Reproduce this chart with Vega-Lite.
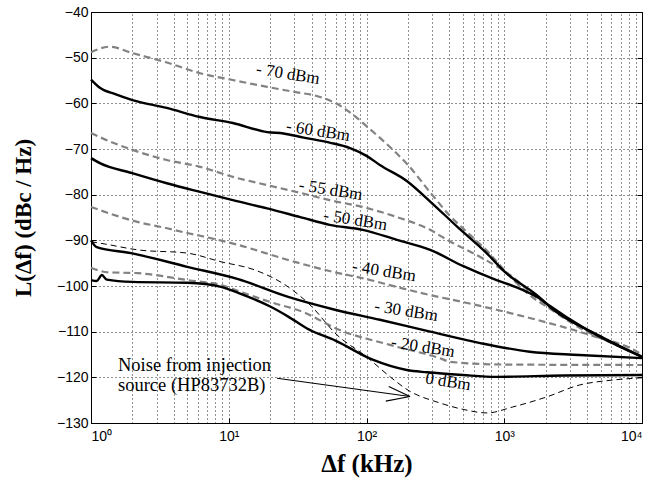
{
  "$schema": "https://vega.github.io/schema/vega-lite/v6.json",
  "autosize": "none",
  "width": 551,
  "height": 411,
  "padding": {"left": 91, "top": 12, "right": 21, "bottom": 62},
  "background": "white",
  "config": {
    "view": {"stroke": "#000", "strokeWidth": 1},
    "axis": {
      "domainColor": "#000",
      "tickColor": "#000",
      "labelColor": "#000",
      "titleColor": "#000",
      "gridColor": "#000",
      "gridDash": [1, 3],
      "gridOpacity": 0.85,
      "gridWidth": 1
    }
  },
  "datasets": {
    "curves": [
      {"series": "-70 dBm", "f": 1, "L": -48.8},
      {"series": "-70 dBm", "f": 1.37, "L": -47.6},
      {"series": "-70 dBm", "f": 2, "L": -49},
      {"series": "-70 dBm", "f": 3.5, "L": -51},
      {"series": "-70 dBm", "f": 6.2, "L": -53.4},
      {"series": "-70 dBm", "f": 10.7, "L": -54.9},
      {"series": "-70 dBm", "f": 19, "L": -56.4},
      {"series": "-70 dBm", "f": 30, "L": -57.5},
      {"series": "-70 dBm", "f": 46, "L": -58.6},
      {"series": "-70 dBm", "f": 60, "L": -60},
      {"series": "-70 dBm", "f": 80, "L": -62.5},
      {"series": "-70 dBm", "f": 100, "L": -65},
      {"series": "-70 dBm", "f": 130, "L": -68},
      {"series": "-70 dBm", "f": 166, "L": -71},
      {"series": "-70 dBm", "f": 200, "L": -73.5},
      {"series": "-70 dBm", "f": 290, "L": -79.5},
      {"series": "-70 dBm", "f": 400, "L": -84.5},
      {"series": "-70 dBm", "f": 564, "L": -88.8},
      {"series": "-70 dBm", "f": 750, "L": -92.3},
      {"series": "-70 dBm", "f": 1000, "L": -96.5},
      {"series": "-70 dBm", "f": 1500, "L": -101.8},
      {"series": "-70 dBm", "f": 2150, "L": -105},
      {"series": "-70 dBm", "f": 3750, "L": -109.6},
      {"series": "-70 dBm", "f": 6600, "L": -113},
      {"series": "-70 dBm", "f": 10000, "L": -115.5},

      {"series": "-60 dBm", "f": 1, "L": -54.8},
      {"series": "-60 dBm", "f": 1.16, "L": -56.6},
      {"series": "-60 dBm", "f": 1.5, "L": -58},
      {"series": "-60 dBm", "f": 2, "L": -59.3},
      {"series": "-60 dBm", "f": 3.55, "L": -61},
      {"series": "-60 dBm", "f": 6.2, "L": -63},
      {"series": "-60 dBm", "f": 10.7, "L": -64.3},
      {"series": "-60 dBm", "f": 19, "L": -66.3},
      {"series": "-60 dBm", "f": 25, "L": -66.6},
      {"series": "-60 dBm", "f": 35, "L": -67.5},
      {"series": "-60 dBm", "f": 54, "L": -68.6},
      {"series": "-60 dBm", "f": 76, "L": -69.8},
      {"series": "-60 dBm", "f": 100, "L": -71.5},
      {"series": "-60 dBm", "f": 125, "L": -73.5},
      {"series": "-60 dBm", "f": 196, "L": -77},
      {"series": "-60 dBm", "f": 290, "L": -81.5},
      {"series": "-60 dBm", "f": 455, "L": -87},
      {"series": "-60 dBm", "f": 745, "L": -92.8},
      {"series": "-60 dBm", "f": 1000, "L": -96.8},
      {"series": "-60 dBm", "f": 1820, "L": -102.6},
      {"series": "-60 dBm", "f": 2150, "L": -104.6},
      {"series": "-60 dBm", "f": 5000, "L": -111},
      {"series": "-60 dBm", "f": 10000, "L": -115.5},

      {"series": "-55 dBm", "f": 1, "L": -66.5},
      {"series": "-55 dBm", "f": 1.16, "L": -67.4},
      {"series": "-55 dBm", "f": 2, "L": -70.2},
      {"series": "-55 dBm", "f": 3.55, "L": -72.4},
      {"series": "-55 dBm", "f": 6.2, "L": -73.9},
      {"series": "-55 dBm", "f": 10.7, "L": -76.1},
      {"series": "-55 dBm", "f": 19, "L": -77.9},
      {"series": "-55 dBm", "f": 33, "L": -79.6},
      {"series": "-55 dBm", "f": 54, "L": -81.2},
      {"series": "-55 dBm", "f": 94, "L": -82.7},
      {"series": "-55 dBm", "f": 166, "L": -84.9},
      {"series": "-55 dBm", "f": 290, "L": -87.7},
      {"series": "-55 dBm", "f": 385, "L": -89.9},
      {"series": "-55 dBm", "f": 665, "L": -93.6},
      {"series": "-55 dBm", "f": 1150, "L": -98},
      {"series": "-55 dBm", "f": 1700, "L": -102.4},
      {"series": "-55 dBm", "f": 2500, "L": -106},
      {"series": "-55 dBm", "f": 4000, "L": -109.8},
      {"series": "-55 dBm", "f": 6600, "L": -113},
      {"series": "-55 dBm", "f": 10000, "L": -115.5},

      {"series": "-50 dBm", "f": 1, "L": -72},
      {"series": "-50 dBm", "f": 1.16, "L": -73.1},
      {"series": "-50 dBm", "f": 2, "L": -75.3},
      {"series": "-50 dBm", "f": 3.55, "L": -77.5},
      {"series": "-50 dBm", "f": 6.2, "L": -79.4},
      {"series": "-50 dBm", "f": 10.7, "L": -81.2},
      {"series": "-50 dBm", "f": 19, "L": -83},
      {"series": "-50 dBm", "f": 33, "L": -84.9},
      {"series": "-50 dBm", "f": 54, "L": -86.6},
      {"series": "-50 dBm", "f": 94, "L": -87.7},
      {"series": "-50 dBm", "f": 166, "L": -89.9},
      {"series": "-50 dBm", "f": 290, "L": -92.1},
      {"series": "-50 dBm", "f": 500, "L": -95.6},
      {"series": "-50 dBm", "f": 880, "L": -98.7},
      {"series": "-50 dBm", "f": 1230, "L": -100.3},
      {"series": "-50 dBm", "f": 1820, "L": -102.8},
      {"series": "-50 dBm", "f": 2150, "L": -104.4},
      {"series": "-50 dBm", "f": 3700, "L": -109},
      {"series": "-50 dBm", "f": 6600, "L": -113},
      {"series": "-50 dBm", "f": 10000, "L": -115.5},

      {"series": "-40 dBm", "f": 1, "L": -82.7},
      {"series": "-40 dBm", "f": 2.2, "L": -86},
      {"series": "-40 dBm", "f": 3.5, "L": -87.3},
      {"series": "-40 dBm", "f": 5, "L": -88.4},
      {"series": "-40 dBm", "f": 6.2, "L": -89},
      {"series": "-40 dBm", "f": 11.7, "L": -91},
      {"series": "-40 dBm", "f": 27, "L": -94.3},
      {"series": "-40 dBm", "f": 59, "L": -97},
      {"series": "-40 dBm", "f": 94, "L": -98.3},
      {"series": "-40 dBm", "f": 166, "L": -100.2},
      {"series": "-40 dBm", "f": 290, "L": -102},
      {"series": "-40 dBm", "f": 500, "L": -103.5},
      {"series": "-40 dBm", "f": 880, "L": -105.2},
      {"series": "-40 dBm", "f": 1530, "L": -107},
      {"series": "-40 dBm", "f": 2700, "L": -109},
      {"series": "-40 dBm", "f": 4700, "L": -111.2},
      {"series": "-40 dBm", "f": 8200, "L": -113.6},
      {"series": "-40 dBm", "f": 10000, "L": -115},

      {"series": "-30 dBm", "f": 1, "L": -90},
      {"series": "-30 dBm", "f": 1.1, "L": -91.5},
      {"series": "-30 dBm", "f": 1.95, "L": -92.8},
      {"series": "-30 dBm", "f": 5, "L": -95.8},
      {"series": "-30 dBm", "f": 11.7, "L": -98.5},
      {"series": "-30 dBm", "f": 27, "L": -102.4},
      {"series": "-30 dBm", "f": 59, "L": -105.2},
      {"series": "-30 dBm", "f": 125, "L": -107.4},
      {"series": "-30 dBm", "f": 290, "L": -110},
      {"series": "-30 dBm", "f": 670, "L": -112.5},
      {"series": "-30 dBm", "f": 1530, "L": -114.4},
      {"series": "-30 dBm", "f": 3500, "L": -115.1},
      {"series": "-30 dBm", "f": 10000, "L": -115.8},

      {"series": "-20 dBm", "f": 1, "L": -96},
      {"series": "-20 dBm", "f": 1.33, "L": -97},
      {"series": "-20 dBm", "f": 2.2, "L": -97.2},
      {"series": "-20 dBm", "f": 5, "L": -98.7},
      {"series": "-20 dBm", "f": 8.8, "L": -99.8},
      {"series": "-20 dBm", "f": 11.7, "L": -101.1},
      {"series": "-20 dBm", "f": 20, "L": -103.5},
      {"series": "-20 dBm", "f": 36, "L": -105.9},
      {"series": "-20 dBm", "f": 60, "L": -109.3},
      {"series": "-20 dBm", "f": 148, "L": -112.9},
      {"series": "-20 dBm", "f": 340, "L": -115.8},
      {"series": "-20 dBm", "f": 405, "L": -116.6},
      {"series": "-20 dBm", "f": 1000, "L": -117.2},
      {"series": "-20 dBm", "f": 10000, "L": -117.3},

      {"series": "0 dBm", "f": 1, "L": -98.7},
      {"series": "0 dBm", "f": 1.1, "L": -98.9},
      {"series": "0 dBm", "f": 1.2, "L": -97.6},
      {"series": "0 dBm", "f": 1.3, "L": -98.6},
      {"series": "0 dBm", "f": 2, "L": -99.1},
      {"series": "0 dBm", "f": 5, "L": -99.3},
      {"series": "0 dBm", "f": 8.8, "L": -100.2},
      {"series": "0 dBm", "f": 11.7, "L": -101.5},
      {"series": "0 dBm", "f": 20, "L": -104.5},
      {"series": "0 dBm", "f": 27, "L": -106.7},
      {"series": "0 dBm", "f": 37, "L": -109.3},
      {"series": "0 dBm", "f": 60, "L": -112},
      {"series": "0 dBm", "f": 112, "L": -116.2},
      {"series": "0 dBm", "f": 196, "L": -118.4},
      {"series": "0 dBm", "f": 275, "L": -118.9},
      {"series": "0 dBm", "f": 500, "L": -119.5},
      {"series": "0 dBm", "f": 880, "L": -119.9},
      {"series": "0 dBm", "f": 2700, "L": -119.6},
      {"series": "0 dBm", "f": 10000, "L": -119.5},

      {"series": "Noise source", "f": 1, "L": -90.3},
      {"series": "Noise source", "f": 1.26, "L": -90.8},
      {"series": "Noise source", "f": 2.2, "L": -92.1},
      {"series": "Noise source", "f": 5, "L": -92.8},
      {"series": "Noise source", "f": 8.8, "L": -94.7},
      {"series": "Noise source", "f": 15.5, "L": -96.5},
      {"series": "Noise source", "f": 27, "L": -100.2},
      {"series": "Noise source", "f": 40, "L": -104.5},
      {"series": "Noise source", "f": 60, "L": -110.5},
      {"series": "Noise source", "f": 100, "L": -115.5},
      {"series": "Noise source", "f": 150, "L": -120},
      {"series": "Noise source", "f": 200, "L": -122.8},
      {"series": "Noise source", "f": 340, "L": -125.6},
      {"series": "Noise source", "f": 500, "L": -127},
      {"series": "Noise source", "f": 750, "L": -127.8},
      {"series": "Noise source", "f": 1150, "L": -126.5},
      {"series": "Noise source", "f": 2030, "L": -124.3},
      {"series": "Noise source", "f": 3500, "L": -121.7},
      {"series": "Noise source", "f": 6100, "L": -120.6},
      {"series": "Noise source", "f": 10000, "L": -120.1}
    ],
    "labels": [
      {"t": "- 70 dBm", "f": 26.9, "L": -53.6},
      {"t": "- 60 dBm", "f": 44.5, "L": -66.1},
      {"t": "- 55 dBm", "f": 55, "L": -79},
      {"t": "- 50 dBm", "f": 83, "L": -85.6},
      {"t": "- 40 dBm", "f": 134, "L": -96.8},
      {"t": "- 30 dBm", "f": 194, "L": -105.5},
      {"t": "- 20 dBm", "f": 257, "L": -113.4},
      {"t": "0 dBm", "f": 391, "L": -121}
    ],
    "note": [
      {"t": "Noise from injection", "f": 1.57, "L": -117.3},
      {"t": "source (HP83732B)", "f": 1.57, "L": -121.7}
    ],
    "arrow": [
      {"fa": 22.4, "La": -120.2, "fb": 207, "Lb": -124.2},
      {"fa": 145, "La": -122.0, "fb": 207, "Lb": -124.2},
      {"fa": 138, "La": -125.2, "fb": 207, "Lb": -124.2}
    ]
  },
  "resolve": {"axis": {"x": "independent", "y": "independent"}},
  "layer": [
    {
      "data": {"name": "curves"},
      "transform": [{"filter": {"field": "series", "oneOf": ["-70 dBm", "-55 dBm", "-40 dBm", "-20 dBm"]}}],
      "mark": {"type": "line", "color": "#828282", "strokeWidth": 2.2, "strokeDash": [7, 4], "strokeCap": "butt", "interpolate": "monotone"},
      "encoding": {
        "x": {
          "field": "f", "type": "quantitative",
          "scale": {"type": "log", "domain": [1, 10000], "nice": false},
          "axis": {
            "orient": "bottom",
            "values": [1, 10, 100, 1000, 10000],
            "labelExpr": "datum.value == 1 ? '10⁰' : datum.value == 10 ? '10¹' : datum.value == 100 ? '10²' : datum.value == 1000 ? '10³' : '10⁴'",
            "labelFont": "Liberation Sans",
            "labelFontSize": 14,
            "labelPadding": 11,
            "tickSize": -5,
            "grid": false,
            "title": "Δf (kHz)",
            "titleFont": "Liberation Serif",
            "titleFontWeight": "bold",
            "titleFontSize": 25,
            "titlePadding": 8
          }
        },
        "y": {
          "field": "L", "type": "quantitative",
          "scale": {"domain": [-130, -40], "nice": false},
          "axis": {
            "orient": "left",
            "values": [-130, -120, -110, -100, -90, -80, -70, -60, -50, -40],
            "labelExpr": "'\u2212' + (-datum.value)",
            "labelFont": "Liberation Sans",
            "labelFontSize": 14,
            "labelPadding": 8,
            "tickSize": -5,
            "grid": true,
            "title": "L(Δf)  (dBc / Hz)",
            "titleFont": "Liberation Serif",
            "titleFontWeight": "bold",
            "titleFontSize": 23,
            "titlePadding": 21
          }
        },
        "detail": {"field": "series", "type": "nominal"}
      }
    },
    {
      "data": {"name": "labels"},
      "mark": {"type": "text", "font": "Liberation Serif", "fontSize": 17, "angle": 9, "align": "center", "baseline": "middle", "color": "#000"},
      "encoding": {
        "x": {
          "field": "f", "type": "quantitative",
          "axis": {
            "orient": "top",
            "values": [1, 2, 3, 4, 5, 6, 7, 8, 9, 10, 20, 30, 40, 50, 60, 70, 80, 90, 100, 200, 300, 400, 500, 600, 700, 800, 900, 1000, 2000, 3000, 4000, 5000, 6000, 7000, 8000, 9000, 10000],
            "grid": true,
            "labels": false,
            "ticks": false,
            "title": null
          }
        },
        "y": {
          "field": "L", "type": "quantitative",
          "axis": {
            "orient": "right",
            "values": [-130, -120, -110, -100, -90, -80, -70, -60, -50, -40],
            "grid": false,
            "labels": false,
            "tickSize": -5,
            "title": null
          }
        },
        "text": {"field": "t"}
      }
    },
    {
      "data": {"name": "curves"},
      "transform": [{"filter": {"field": "series", "oneOf": ["-60 dBm", "-50 dBm", "-30 dBm", "0 dBm"]}}],
      "mark": {"type": "line", "color": "#000", "strokeWidth": 2.4, "interpolate": "monotone"},
      "encoding": {
        "x": {"field": "f", "type": "quantitative", "axis": null},
        "y": {"field": "L", "type": "quantitative", "axis": null},
        "detail": {"field": "series", "type": "nominal"}
      }
    },
    {
      "data": {"name": "curves"},
      "transform": [{"filter": {"field": "series", "equal": "Noise source"}}],
      "mark": {"type": "line", "color": "#000", "strokeWidth": 1, "strokeDash": [6, 4], "interpolate": "monotone"},
      "encoding": {
        "x": {"field": "f", "type": "quantitative", "axis": null},
        "y": {"field": "L", "type": "quantitative", "axis": null}
      }
    },
    {
      "data": {"name": "note"},
      "mark": {"type": "text", "font": "Liberation Serif", "fontSize": 18.5, "align": "left", "baseline": "middle", "color": "#000"},
      "encoding": {
        "x": {"field": "f", "type": "quantitative", "axis": null},
        "y": {"field": "L", "type": "quantitative", "axis": null},
        "text": {"field": "t"}
      }
    },
    {
      "data": {"name": "arrow"},
      "mark": {"type": "rule", "color": "#000", "strokeWidth": 1.2},
      "encoding": {
        "x": {"field": "fa", "type": "quantitative", "axis": null},
        "y": {"field": "La", "type": "quantitative", "axis": null},
        "x2": {"field": "fb"},
        "y2": {"field": "Lb"}
      }
    }
  ]
}
